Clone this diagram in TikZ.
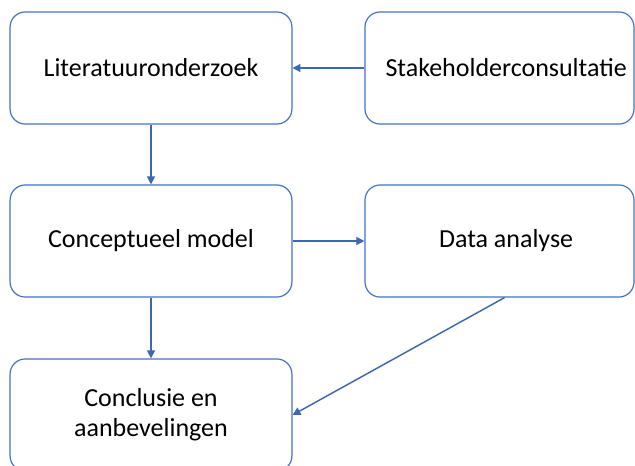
\documentclass[tikz,border=0pt]{standalone}
\usepackage{fontspec}
\setmainfont{Carlito}
\usetikzlibrary{arrows.meta}

\definecolor{boxblue}{HTML}{4472C4}
\definecolor{arrowblue}{HTML}{3D67B1}

\tikzset{
    stap/.style={draw=boxblue, line width=0.9pt, rounded corners=0.4cm,
        fill=white, align=center, inner sep=0pt, font=\fontsize{19.6}{22.6}\selectfont,
        minimum width=7.47cm, minimum height=2.97cm},
    stapsmal/.style={stap, minimum width=7.13cm},
    pijl/.style={draw=arrowblue, line width=1.1pt, -{Triangle[length=6pt,width=6pt]}}
}

\begin{document}
\begin{tikzpicture}[x=0.0265cm, y=-0.0265cm]
    \useasboundingbox (0,0) rectangle (635,465);
    % Boxes
    \node[stap] (lit) at (151,68) {Literatuuronderzoek};
    \node[stapsmal] (stake) at (499.5,68) {\hspace{10pt}Stakeholderconsultatie};
    \node[stap] (model) at (151,241) {Conceptueel model};
    \node[stapsmal] (data) at (499.5,241) {\hspace{10pt}Data analyse};
    \node[stap] (concl) at (151,415) {Conclusie en\\aanbevelingen};
    % Arrows
    \draw[pijl] (stake.west) -- (lit.east);
    \draw[pijl] (lit.south) -- (model.north);
    \draw[pijl] (model.east) -- (data.west);
    \draw[pijl] (model.south) -- (concl.north);
    \draw[pijl] (data.south) ++(5,0) coordinate (dstart) (dstart) -- (concl.east);
\end{tikzpicture}
\end{document}
